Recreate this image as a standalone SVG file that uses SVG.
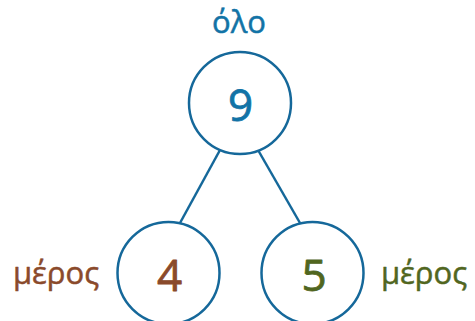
<svg xmlns="http://www.w3.org/2000/svg" width="475" height="321" viewBox="0 0 475 321">
  <style>
    .ring { fill: #ffffff; stroke: #15689a; stroke-width: 2.5; }
    .link { stroke: #15689a; stroke-width: 2.5; fill: none; }
    .num { font-family: "Open Sans", "Noto Sans", sans-serif; font-size: 44px; text-anchor: middle; stroke-width: 0.8; stroke-linejoin: round; }
    .lbl { font-family: "Open Sans", "Noto Sans", sans-serif; font-size: 31px; text-anchor: middle; stroke-width: 0.5; stroke-linejoin: round; }
    .blue { fill: #1273a6; stroke: #1273a6; }
    .brown { fill: #8a4a2b; stroke: #8a4a2b; }
    .olive { fill: #51661f; stroke: #51661f; }
  </style>
  <rect width="475" height="321" fill="#ffffff"/>
  <g id="connectors">
    <line class="link" x1="220" y1="150" x2="180" y2="223"/>
    <line class="link" x1="258" y1="150" x2="300" y2="223"/>
  </g>
  <g id="whole">
    <text class="lbl blue" x="239" y="33">όλο</text>
    <circle class="ring" cx="240" cy="103" r="51"/>
    <text class="num blue" x="240.5" y="121">9</text>
  </g>
  <g id="part-left">
    <circle class="ring" cx="168.5" cy="273" r="51"/>
    <text class="num brown" x="169.5" y="291">4</text>
    <text class="lbl brown" x="56" y="284">μέρος</text>
  </g>
  <g id="part-right">
    <circle class="ring" cx="312.5" cy="273" r="51"/>
    <text class="num olive" x="314" y="291">5</text>
    <text class="lbl olive" x="424" y="284">μέρος</text>
  </g>
</svg>
